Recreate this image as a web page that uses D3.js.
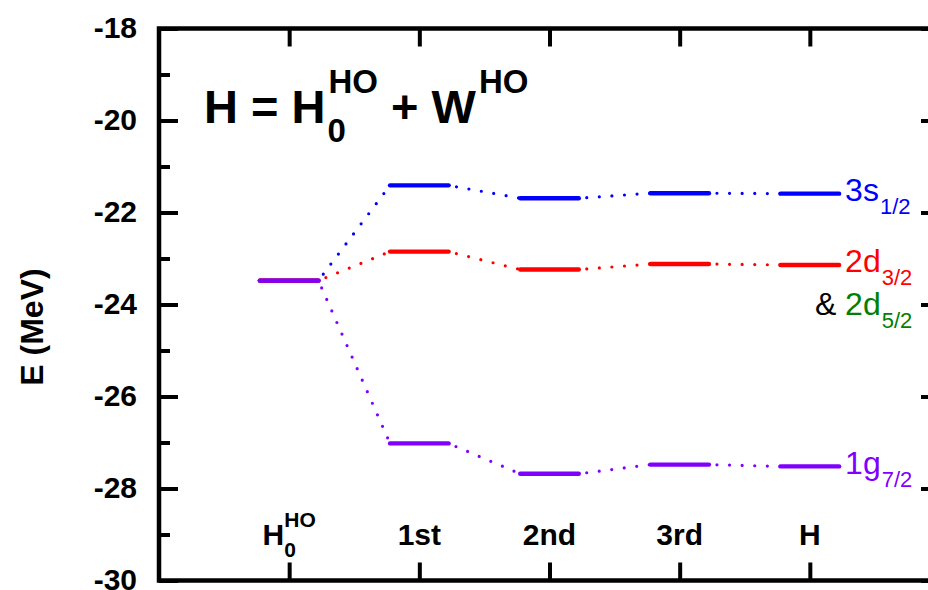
<!DOCTYPE html>
<html>
<head>
<meta charset="utf-8">
<script src="https://cdn.jsdelivr.net/npm/d3@7"></script>
<style>
  html, body { margin: 0; padding: 0; background: #fff; }
  svg { display: block; }
  text { white-space: pre; }
</style>
</head>
<body>
<svg id="chart" width="928" height="590"></svg>
<script>
// Perturbative steps (x categories); "_" marks a subscript, "^" a superscript
const categories = ["H_0^HO", "1st", "2nd", "3rd", "H"];

// Single-particle energies (MeV) at each step
const levels3s = [-23.48, -21.41, -21.69, -21.58, -21.59];
const levels2d = [-23.48, -22.85, -23.24, -23.12, -23.14];
const levels1g = [-23.48, -27.02, -27.68, -27.48, -27.52];

// Level names written at the right end
const levelNames = ["3s_1/2", "2d_3/2", "1g_7/2"];
const degenerateName = "2d_5/2";
const degeneratePrefix = "& ";

// Axis ticks
const yMajorTicks = [-30, -28, -26, -24, -22, -20, -18];
const yMinorTicks = [-29, -27, -25, -23, -21, -19];

// Title pieces
const titleParts = ["H = H_0^HO", " + W^HO"];
const yTitle = "E (MeV)";

// ---- styling ----
const colors = ["#0000ff", "#ff0000", "#8000ff"];
const greenColor = "#008000";
const FONT = "'Liberation Sans', Arial, Helvetica, sans-serif";
const BAR_HALF = 0.225;   // half length of a level bar, in category units

const svg = d3.select("#chart");

const x = d3.scaleLinear().domain([-1, 5]).range([159, 940]);
const y = d3.scaleLinear().domain([-30, -18]).range([580.5, 28.5]);

// parse "base_sub^sup"
function parseLabel(s) {
  const m = s.match(/^([^_^]*)(?:_([^_^]*))?(?:\^(.*))?$/);
  return { base: m[1], sub: m[2] || "", sup: m[3] || "" };
}

// draw a label with stacked sub/superscripts; returns the end x
function richText(g, x0, y0, str, o) {
  const p = parseLabel(str);
  const base = g.append("text")
    .attr("x", x0).attr("y", y0)
    .attr("font-family", FONT)
    .attr("font-weight", o.weight)
    .attr("font-size", o.size)
    .attr("fill", o.fill)
    .text(p.base);
  let end = x0 + base.node().getComputedTextLength();
  let w = 0;
  if (p.sub) {
    const t = g.append("text")
      .attr("x", end + (o.subDx || 0)).attr("y", y0 + o.subShift)
      .attr("font-family", FONT).attr("font-weight", o.weight)
      .attr("font-size", o.smallSize).attr("fill", o.fill)
      .text(p.sub);
    w = Math.max(w, t.node().getComputedTextLength() + (o.subDx || 0));
  }
  if (p.sup) {
    const t = g.append("text")
      .attr("x", end + (o.supDx || 0)).attr("y", y0 + o.supShift)
      .attr("font-family", FONT).attr("font-weight", o.weight)
      .attr("font-size", o.smallSize).attr("fill", o.fill)
      .text(p.sup);
    w = Math.max(w, t.node().getComputedTextLength() + (o.supDx || 0));
  }
  return end + w;
}

// ---- frame and ticks ----
const axisG = svg.append("g");

function styleAxis(sel) {
  sel.select(".domain").remove();
  sel.selectAll(".tick line").attr("stroke", "#000").attr("stroke-width", 4);
}

axisG.append("g")
  .attr("transform", `translate(${x(-1)},0)`)
  .call(d3.axisLeft(y).tickValues(yMajorTicks).tickSize(-19).tickPadding(22).tickFormat(d => String(d)))
  .call(styleAxis)
  .call(g => g.selectAll(".tick text")
    .attr("font-family", FONT).attr("font-weight", "bold").attr("font-size", 30)
    .attr("fill", "#000").attr("dy", "0.31em").attr("x", -22));

axisG.append("g")
  .attr("transform", `translate(${x(-1)},0)`)
  .call(d3.axisLeft(y).tickValues(yMinorTicks).tickSize(-11).tickFormat(""))
  .call(styleAxis);

axisG.append("g")
  .attr("transform", `translate(${x(5)},0)`)
  .call(d3.axisRight(y).tickValues(yMajorTicks).tickSize(-19).tickFormat(""))
  .call(styleAxis);

axisG.append("g")
  .attr("transform", `translate(${x(5)},0)`)
  .call(d3.axisRight(y).tickValues(yMinorTicks).tickSize(-11).tickFormat(""))
  .call(styleAxis);

axisG.append("g")
  .attr("transform", `translate(0,${y(-30)})`)
  .call(d3.axisBottom(x).tickValues(d3.range(categories.length)).tickSize(-18).tickFormat(""))
  .call(styleAxis);

axisG.append("g")
  .attr("transform", `translate(0,${y(-18)})`)
  .call(d3.axisTop(x).tickValues(d3.range(categories.length)).tickSize(-18).tickFormat(""))
  .call(styleAxis);

axisG.append("rect")
  .attr("x", x(-1)).attr("y", y(-18))
  .attr("width", x(5) - x(-1)).attr("height", y(-30) - y(-18))
  .attr("fill", "none").attr("stroke", "#000").attr("stroke-width", 4.5);

// ---- category labels ----
categories.forEach((c, i) => {
  const g = svg.append("g");
  const end = richText(g, 0, 545, c, {
    weight: "bold", size: 30, smallSize: 21, fill: "#000",
    subShift: 12, supShift: -18, subDx: 0, supDx: 0
  });
  g.attr("transform", `translate(${x(i) - end / 2},0)`);
});

// ---- y axis title ----
svg.append("text")
  .attr("transform", "translate(43,327) rotate(-90)")
  .attr("text-anchor", "middle")
  .attr("font-family", FONT).attr("font-weight", "bold").attr("font-size", 32)
  .attr("fill", "#000")
  .text(yTitle);

// ---- plot title ----
{
  const g = svg.append("g");
  let cx = 204;
  titleParts.forEach(part => {
    cx = richText(g, cx, 123, part, {
      weight: "bold", size: 47, smallSize: 33, fill: "#000",
      subShift: 19, supShift: -30, subDx: 2, supDx: 3
    });
  });
}

// ---- energy levels ----
const series = [levels3s, levels2d, levels1g];
const plot = svg.append("g");

series.forEach((vals, s) => {
  const g = plot.append("g");
  // dotted connectors between consecutive bars
  g.selectAll("line.conn")
    .data(d3.range(vals.length - 1))
    .join("line")
    .attr("class", "conn")
    .attr("x1", i => x(i + BAR_HALF))
    .attr("y1", i => y(vals[i]))
    .attr("x2", i => x(i + 1 - BAR_HALF))
    .attr("y2", i => y(vals[i + 1]))
    .attr("stroke", colors[s])
    .attr("stroke-width", 3.2)
    .attr("stroke-linecap", "round")
    .attr("stroke-dasharray", "0 12.6")
    .attr("stroke-dashoffset", 4.6);
  // level bars
  g.selectAll("line.bar")
    .data(vals)
    .join("line")
    .attr("class", "bar")
    .attr("x1", (d, i) => x(i - BAR_HALF))
    .attr("x2", (d, i) => x(i + BAR_HALF))
    .attr("y1", d => y(d))
    .attr("y2", d => y(d))
    .attr("stroke", colors[s])
    .attr("stroke-width", 4.4)
    .attr("stroke-linecap", "round");
});

// ---- level names at the right ----
const last = categories.length - 1;
const labelX = x(last + BAR_HALF) + 6;
const nameOpts = c => ({ weight: "normal", size: 32, smallSize: 22, fill: c, subShift: 13, supShift: -13, subDx: 1 });

series.forEach((vals, s) => {
  richText(svg.append("g"), labelX, y(vals[last]) + 7.5, levelNames[s], nameOpts(colors[s]));
});

// degenerate partner of the 2d level
{
  const yy = y(levels2d[last]) + 50;
  svg.append("text")
    .attr("x", labelX).attr("y", yy)
    .attr("text-anchor", "end")
    .attr("font-family", FONT).attr("font-size", 32).attr("fill", "#000")
    .text(degeneratePrefix);
  richText(svg.append("g"), labelX, yy, degenerateName, nameOpts(greenColor));
}
</script>
</body>
</html>
